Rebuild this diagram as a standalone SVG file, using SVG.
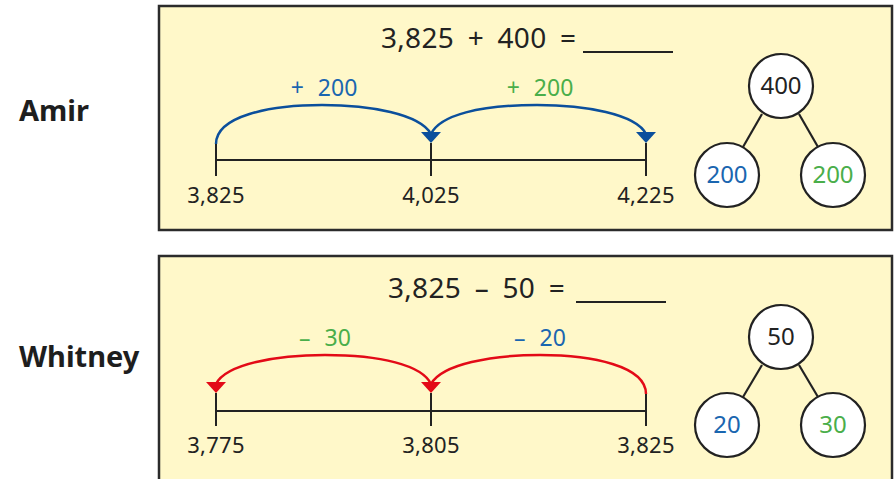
<svg xmlns="http://www.w3.org/2000/svg" width="894" height="479" viewBox="0 0 894 479">
<defs>
<style>
.box{fill:#FFF8C9;stroke:#2b2b2b;stroke-width:2.5}
.t{font-family:"Noto Sans","Open Sans",sans-serif;fill:#222}
.name{font-family:"Noto Sans","Open Sans",sans-serif;font-weight:bold;font-size:29px;fill:#1e1e1e}
.eq{font-size:28px;word-spacing:6px;letter-spacing:0.3px}
.lab{font-size:22px;text-anchor:middle;letter-spacing:0.3px}
.jl{font-size:23px;text-anchor:middle;word-spacing:8px}
.ct{font-size:24px;text-anchor:middle}
.blue{fill:#1a66b0}
.green{fill:#4aae4a}
.axis{stroke:#222;stroke-width:2;fill:none}
.arcB{stroke:#0b4f9c;stroke-width:2.5;fill:none}
.arcR{stroke:#e30a17;stroke-width:2.5;fill:none}
.circ{fill:#fff;stroke:#222;stroke-width:2.2}
.ln{stroke:#222;stroke-width:2.2}
</style>
<polygon id="ah" points="-10,-11 10,-11 0,0"/>
</defs>
<g id="amir-label"><text class="name" x="19" y="121">Amir</text></g>
<g id="whitney-label"><text class="name" x="19" y="367">Whitney</text></g>

<g id="panel-amir">
<rect class="box" x="159" y="6" width="733" height="224"/>
<text class="t eq" x="381" y="48">3,825 + 400 =</text>
<line class="axis" x1="583" y1="52" x2="673" y2="52"/>
<g id="numberline-amir">
<line class="axis" x1="216" y1="160" x2="646" y2="160"/>
<line class="axis" x1="216" y1="143" x2="216" y2="176"/>
<line class="axis" x1="431" y1="143" x2="431" y2="176"/>
<line class="axis" x1="646" y1="143" x2="646" y2="176"/>
<text class="t lab" x="216" y="203">3,825</text>
<text class="t lab" x="431" y="203">4,025</text>
<text class="t lab" x="646" y="203">4,225</text>
</g>
<g id="jumps-amir">
<path class="arcB" d="M216,144 C216,116 270,105 322,105 C370,105 420,114 431,134"/>
<path class="arcB" d="M431,134 C440,115 480,105 537,105 C585,105 636,114 646,134"/>
<use href="#ah" x="431" y="143" fill="#0b4f9c"/>
<use href="#ah" x="646" y="143" fill="#0b4f9c"/>
<text class="t jl blue" x="324" y="96">+ 200</text>
<text class="t jl green" x="540" y="96">+ 200</text>
</g>
<g id="bond-amir">
<line class="ln" x1="762" y1="114" x2="743" y2="147"/>
<line class="ln" x1="799" y1="114" x2="818" y2="147"/>
<g id="bond-amir-whole"><circle class="circ" cx="781" cy="86" r="32"/><text class="t ct" x="781" y="94">400</text></g>
<g id="bond-amir-part1"><circle class="circ" cx="727" cy="175" r="32"/><text class="t ct blue" x="727" y="183">200</text></g>
<g id="bond-amir-part2"><circle class="circ" cx="833" cy="175" r="32"/><text class="t ct green" x="833" y="183">200</text></g>
</g>
</g>

<g id="panel-whitney">
<rect class="box" x="159" y="256" width="733" height="230"/>
<text class="t eq" x="388" y="298">3,825 – 50 =</text>
<line class="axis" x1="576" y1="302" x2="666" y2="302"/>
<g id="numberline-whitney">
<line class="axis" x1="216" y1="411" x2="646" y2="411"/>
<line class="axis" x1="216" y1="393" x2="216" y2="426"/>
<line class="axis" x1="431" y1="393" x2="431" y2="426"/>
<line class="axis" x1="646" y1="393" x2="646" y2="426"/>
<text class="t lab" x="216" y="453">3,775</text>
<text class="t lab" x="431" y="453">3,805</text>
<text class="t lab" x="646" y="453">3,825</text>
</g>
<g id="jumps-whitney">
<path class="arcR" d="M646,394 C646,366 592,355 540,355 C492,355 442,364 431,384"/>
<path class="arcR" d="M431,384 C422,365 380,355 325,355 C277,355 226,364 216,384"/>
<use href="#ah" x="216" y="393" fill="#e30a17"/>
<use href="#ah" x="431" y="393" fill="#e30a17"/>
<text class="t jl green" x="325" y="346">– 30</text>
<text class="t jl blue" x="540" y="346">– 20</text>
</g>
<g id="bond-whitney">
<line class="ln" x1="762" y1="365" x2="743" y2="397"/>
<line class="ln" x1="799" y1="365" x2="818" y2="397"/>
<g id="bond-whitney-whole"><circle class="circ" cx="781" cy="337" r="32"/><text class="t ct" x="781" y="345">50</text></g>
<g id="bond-whitney-part1"><circle class="circ" cx="727" cy="425" r="32"/><text class="t ct blue" x="727" y="433">20</text></g>
<g id="bond-whitney-part2"><circle class="circ" cx="833" cy="425" r="32"/><text class="t ct green" x="833" y="433">30</text></g>
</g>
</g>
</svg>
